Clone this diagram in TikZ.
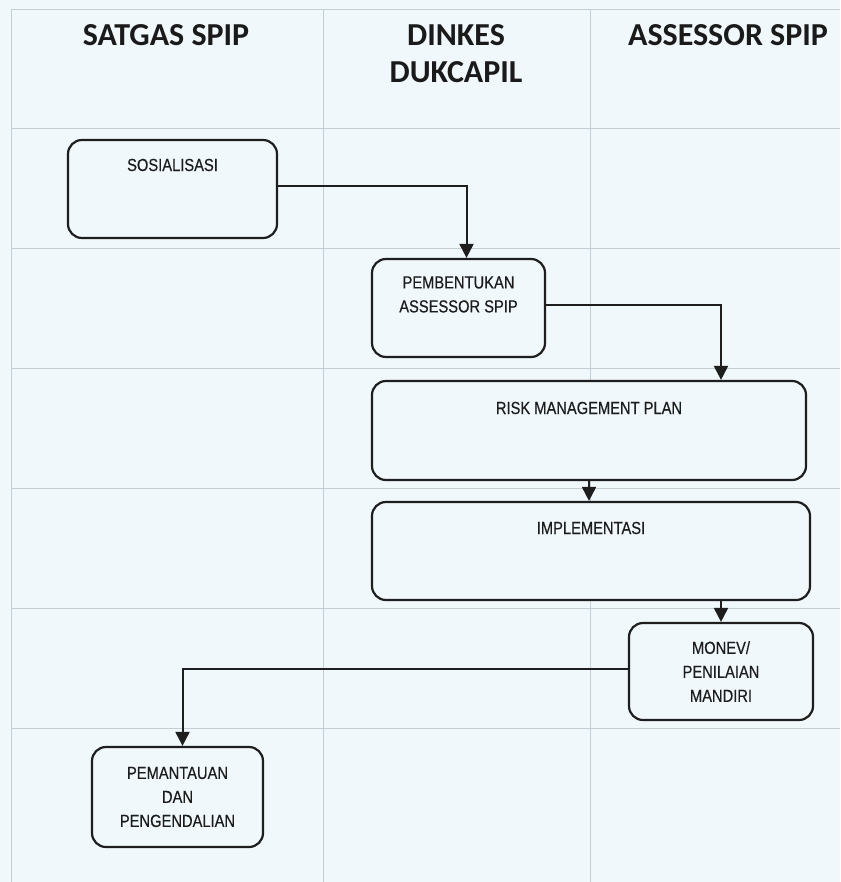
\documentclass[tikz,border=0pt]{standalone}
\usepackage{fontspec}
\newfontfamily\headFont{Carlito}
\newfontfamily\boxFont[FakeStretch=0.84,FakeBold=0.4]{Liberation Sans}
\usetikzlibrary{arrows.meta}

\begin{document}
\begin{tikzpicture}[x=1pt, y=-1pt,
    procBox/.style={draw=borderColour, fill=paperColour, line width=2.2pt, rounded corners=14pt, inner sep=0pt},
    boxText/.style={font=\boxFont\fontsize{17.5}{24}\selectfont, text=textColour, align=center, inner sep=0pt},
    headText/.style={font=\headFont\bfseries\fontsize{32}{37}\selectfont, text=headColour, align=center, inner sep=0pt},
    gridLine/.style={draw=gridColour, line width=0.6pt},
    flow/.style={draw=borderColour, line width=2pt, -{Triangle[width=14pt,length=14pt]}}]

    \definecolor{borderColour}{HTML}{1E1E1E}
    \definecolor{textColour}{HTML}{1C1C1C}
    \definecolor{headColour}{HTML}{1A1A1A}
    \definecolor{gridColour}{HTML}{C3CFD6}
    \definecolor{paperColour}{HTML}{F0F8FC}

    % Paper
    \fill[paperColour] (0,0) rectangle (840,882);
    \useasboundingbox (0,0) rectangle (840,882);

    % Draw grid
    \foreach \x in {11,323,590}
        \draw[gridLine] (\x,9) -- (\x,882);
    \foreach \y in {9,128,248,368,488,608,728}
        \draw[gridLine] (11,\y) -- (840,\y);

    % Lane headers
    \node[headText] (satgas) at (166,35) {SATGAS SPIP};
    \node[headText] (dinkes) at (456,53.5) {DINKES\\DUKCAPIL};
    \node[headText] (assessor) at (728,35) {ASSESSOR SPIP};

    % Process boxes
    \node[procBox, minimum width=209pt, minimum height=98pt] (sos) at (172.5,189) {};
    \node[boxText] (sosText) at (172.5,165) {SOSIALISASI};

    \node[procBox, minimum width=173pt, minimum height=98pt] (pemb) at (458.5,308) {};
    \node[boxText] (pembText) at (458.5,294.5) {PEMBENTUKAN\\ASSESSOR SPIP};

    \node[procBox, minimum width=434pt, minimum height=99pt] (risk) at (589,430.5) {};
    \node[boxText] (riskText) at (589,408) {RISK MANAGEMENT PLAN};

    \node[procBox, minimum width=438pt, minimum height=98pt] (impl) at (591,551) {};
    \node[boxText] (implText) at (591,528) {IMPLEMENTASI};

    \node[procBox, boxText, inner sep=0pt, minimum width=184pt, minimum height=97pt] (monev) at (721,671.5) {MONEV/\\PENILAIAN\\MANDIRI};

    \node[procBox, boxText, inner sep=0pt, minimum width=171pt, minimum height=100pt] (pem) at (177.5,797) {PEMANTAUAN\\DAN\\PENGENDALIAN};

    % Connectors
    \draw[flow] ([yshift=3pt]sos.east) -| ([xshift=8pt]pemb.north);
    \draw[flow] ([yshift=3pt]pemb.east) -| (risk.north -| monev.north);
    \draw[flow] (risk.south) -- (risk.south |- impl.north);
    \draw[flow] (impl.south -| monev.north) -- (monev.north);
    \draw[flow] ([yshift=3pt]monev.west) -| ([xshift=5pt]pem.north);

\end{tikzpicture}
\end{document}
